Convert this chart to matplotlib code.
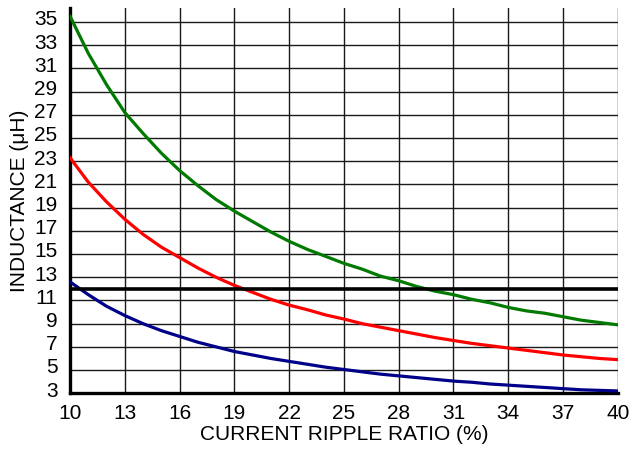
import numpy as np
import matplotlib.pyplot as plt
import matplotlib.transforms as mtransforms

# ripple ratio (%) and inductance (uH)
ripple = list(range(10, 41))
l_green = [35.5, 32.3, 29.6, 27.2, 25.4, 23.7, 22.2, 20.9, 19.7, 18.7,
           17.8, 16.9, 16.1, 15.4, 14.8, 14.2, 13.7, 13.1, 12.7, 12.2,
           11.8, 11.5, 11.1, 10.8, 10.4, 10.1, 9.9, 9.6, 9.3, 9.1, 8.9]
l_red = [23.3, 21.2, 19.5, 18.0, 16.7, 15.6, 14.7, 13.8, 13.0, 12.3,
         11.7, 11.1, 10.6, 10.2, 9.75, 9.4, 9.0, 8.7, 8.4, 8.1,
         7.8, 7.55, 7.3, 7.1, 6.9, 6.7, 6.5, 6.3, 6.15, 6.0, 5.9]
l_blue = [12.6, 11.5, 10.5, 9.7, 9.0, 8.4, 7.9, 7.4, 7.0, 6.6,
          6.3, 6.0, 5.75, 5.5, 5.25, 5.05, 4.85, 4.65, 4.5, 4.35,
          4.2, 4.05, 3.95, 3.8, 3.7, 3.6, 3.5, 3.4, 3.3, 3.25, 3.2]
l_limit = 12

x_ticks = list(range(10, 41, 3))
y_ticks = list(range(3, 36, 2))

plt.rcParams['font.family'] = ['Liberation Sans', 'DejaVu Sans']

fig = plt.figure(figsize=(6.31, 4.51), dpi=100)
ax = fig.add_axes([0.111, 0.128, 0.868, 0.854])

ax.plot(ripple, l_green, color='#007a00', lw=2.3, zorder=3)
ax.plot(ripple, l_red, color='#ff0000', lw=2.3, zorder=3)
ax.plot(ripple, l_blue, color='#000088', lw=2.3, zorder=3)
ax.axhline(l_limit, color='black', lw=2.6, zorder=4)

ax.set_xlim(10, 40)
ax.set_ylim(3, 36.2)
ax.set_xticks(x_ticks)
ax.set_yticks(y_ticks)
ax.tick_params(length=0, labelsize=15)
ax.tick_params(axis='x', pad=8)
ax.tick_params(axis='y', pad=9)
# y labels sit a little above their grid lines in the original
shift = mtransforms.ScaledTranslation(0, 3 / 72, fig.dpi_scale_trans)
for lab in ax.get_yticklabels():
    lab.set_transform(lab.get_transform() + shift)
ax.grid(True, color='#1a1a1a', lw=1.0)
ax.set_axisbelow(True)

ax.spines['top'].set_visible(False)
ax.spines['right'].set_visible(False)
ax.spines['left'].set_linewidth(2.4)
ax.spines['bottom'].set_linewidth(2.4)

ax.set_xlabel('CURRENT RIPPLE RATIO (%)', fontsize=15, labelpad=1)
ax.set_ylabel('INDUCTANCE (\u03bcH)', fontsize=15, labelpad=4)

fig.savefig('out.png', dpi=100)
